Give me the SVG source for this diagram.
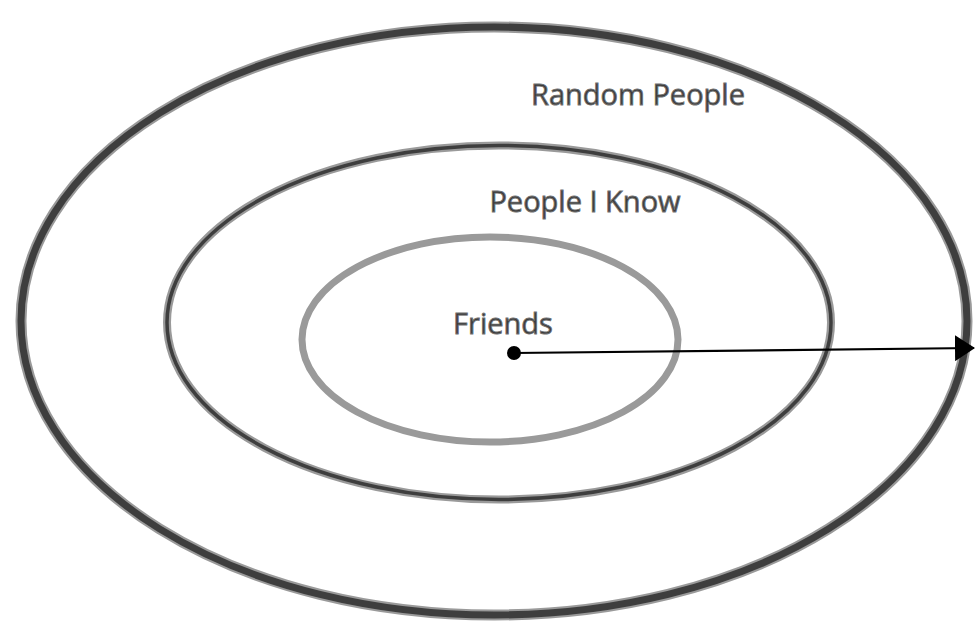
<svg xmlns="http://www.w3.org/2000/svg" width="976" height="626" viewBox="0 0 976 626">
<defs>
<style>
.ring{fill:none;stroke:#3e3e3e}
.halo{fill:none;stroke:#9a9a9a}
.lbl{font-family:"Open Sans","Noto Sans","DejaVu Sans",sans-serif;font-size:29px;fill:#3a3a3a;text-anchor:middle;stroke:#707070;stroke-width:0.9}
</style>
<marker id="arr" markerWidth="20" markerHeight="26" refX="19" refY="13" orient="auto" markerUnits="userSpaceOnUse">
<path d="M0,0 L20,13 L0,26 Z" fill="#000"/>
</marker>
</defs>
<rect width="976" height="626" fill="#fff"/>
<g id="random-people">
<ellipse class="halo" cx="494" cy="321" rx="473" ry="294" stroke-width="11"/>
<ellipse class="ring" cx="494" cy="321" rx="473" ry="294" stroke-width="7"/>
<text class="lbl" x="638" y="105">Random People</text>
</g>
<g id="people-i-know">
<ellipse class="halo" cx="499" cy="322.5" rx="332" ry="177" stroke-width="8"/>
<ellipse class="ring" cx="499" cy="322.5" rx="332" ry="177" stroke-width="3.5"/>
<text class="lbl" x="585" y="212">People I Know</text>
</g>
<g id="friends">
<ellipse class="halo" cx="490" cy="339.5" rx="188" ry="102.5" stroke-width="7" stroke="#8c8c8c"/>
<text class="lbl" x="503" y="334">Friends</text>
</g>
<g id="connectors">
<circle cx="514" cy="353" r="7" fill="#000"/>
<line x1="514" y1="353" x2="974" y2="348" stroke="#000" stroke-width="2.2" marker-end="url(#arr)"/>
</g>
</svg>
